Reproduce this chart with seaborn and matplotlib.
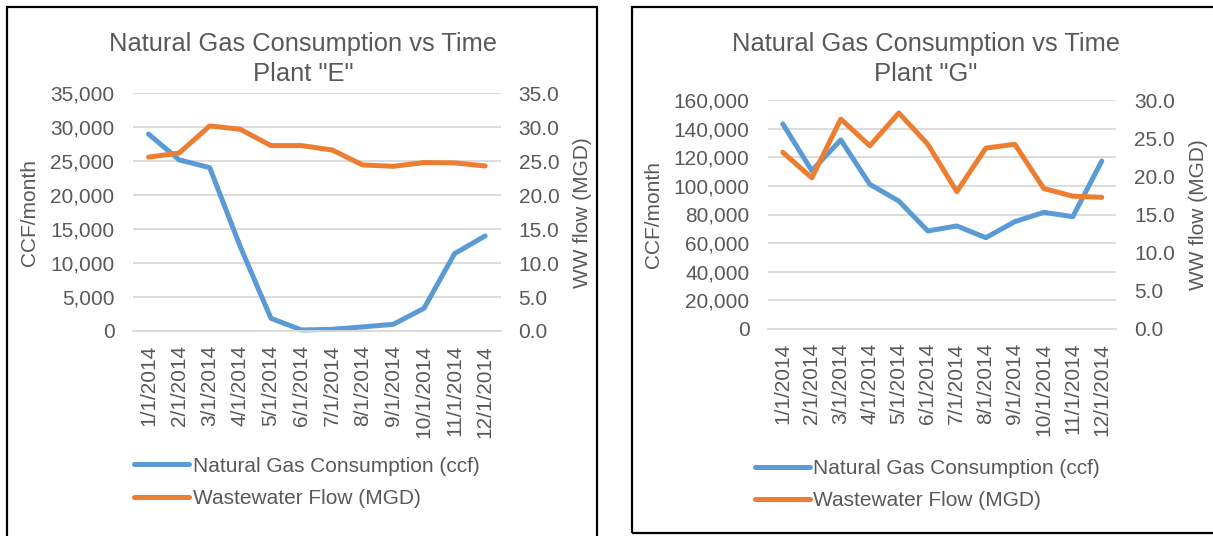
import matplotlib
matplotlib.use("Agg")
import matplotlib.pyplot as plt
from matplotlib.patches import Rectangle
from matplotlib.ticker import FuncFormatter, MultipleLocator
import numpy as np
import pandas as pd
import seaborn as sns

# ---- data -------------------------------------------------------------
months = ["1/1/2014", "2/1/2014", "3/1/2014", "4/1/2014", "5/1/2014", "6/1/2014",
          "7/1/2014", "8/1/2014", "9/1/2014", "10/1/2014", "11/1/2014", "12/1/2014"]

gas_e = [29000, 25200, 24050, 12400, 1870, 150, 250, 600, 990, 3340, 11400, 14000]
flow_e = [25.6, 26.2, 30.2, 29.7, 27.3, 27.3, 26.65, 24.45, 24.25, 24.8, 24.75, 24.3]

gas_g = [143300, 110600, 132100, 101100, 89400, 68500, 72000, 63800, 75000, 81500, 78500, 117400]
flow_g = [23.15, 19.8, 27.5, 24.0, 28.3, 24.2, 18.0, 23.7, 24.2, 18.4, 17.4, 17.25]

gas_label = "Natural Gas Consumption (ccf)"
flow_label = "Wastewater Flow (MGD)"

# ---- style ------------------------------------------------------------
sns.set_theme(style="white")
plt.rcParams["font.family"] = ["Liberation Sans", "DejaVu Sans"]
TEXT = "#595959"
GRID = "#D9D9D9"
BLUE = "#5B9BD5"
ORANGE = "#ED7D31"
FS = 15

W, H = 1213, 536
fig = plt.figure(figsize=(W / 100, H / 100), dpi=100)


def panel(rect, gas, flow, title, gas_max, gas_step, flow_max, flow_step,
          title_pos, ylab_x, leg_xy):
    x0, y0, x1, y1 = rect  # pixel box of the plotting area
    ax = fig.add_axes([x0 / W, 1 - y1 / H, (x1 - x0) / W, (y1 - y0) / H])
    df = pd.DataFrame({"pos": np.arange(len(months)), "gas": gas, "flow": flow})

    line_kw = dict(linewidth=3.6, solid_capstyle="round", solid_joinstyle="round",
                   clip_on=False)
    sns.lineplot(data=df, x="pos", y="gas", ax=ax, color=BLUE, sort=False,
                 label=gas_label, legend=False, **line_kw)
    ax2 = ax.twinx()
    sns.lineplot(data=df, x="pos", y="flow", ax=ax2, color=ORANGE, sort=False,
                 label=flow_label, legend=False, **line_kw)

    ax.set_xlim(-0.5, len(months) - 0.5)
    ax.set_ylim(0, gas_max)
    ax2.set_ylim(0, flow_max)
    ax.yaxis.set_major_locator(MultipleLocator(gas_step))
    ax2.yaxis.set_major_locator(MultipleLocator(flow_step))
    ax.yaxis.set_major_formatter(FuncFormatter(lambda v, p: f"{v:,.0f}"))
    ax2.yaxis.set_major_formatter(FuncFormatter(lambda v, p: f"{v:.1f}"))
    ax.set_xticks(np.arange(len(months)))
    ax.set_xticklabels(months, rotation=90, fontsize=FS, color=TEXT)

    ax.tick_params(axis="y", length=0, pad=13.5, labelsize=FS, labelcolor=TEXT)
    ax.tick_params(axis="x", length=0, pad=10)
    ax2.tick_params(axis="y", length=0, pad=13, labelsize=FS, labelcolor=TEXT)

    ax.yaxis.grid(True, color=GRID, linewidth=1.3)
    ax.xaxis.grid(False)
    ax2.grid(False)
    for a in (ax, ax2):
        for s in a.spines.values():
            s.set_visible(False)
    ax.spines["bottom"].set_visible(True)
    ax.spines["bottom"].set_color(GRID)
    ax.spines["bottom"].set_linewidth(1.3)

    ax.set_xlabel("")
    ax.set_ylabel("CCF/month", fontsize=FS, color=TEXT, va="center")
    ax.yaxis.set_label_coords(ylab_x[0], 0.5)
    ax2.set_ylabel("WW flow (MGD)", fontsize=FS, color=TEXT, va="center")
    ax2.yaxis.set_label_coords(ylab_x[1], 0.5)

    ax.set_title(title, fontsize=18.4, color=TEXT, x=title_pos[0], y=title_pos[1],
                 va="center", linespacing=1.3)

    handles = ax.get_lines()[:1] + ax2.get_lines()[:1]
    fig.legend(handles, [gas_label, flow_label], loc="upper left",
               bbox_to_anchor=(leg_xy[0] / W, 1 - leg_xy[1] / H),
               bbox_transform=fig.transFigure, frameon=False, fontsize=FS,
               labelcolor=TEXT, handlelength=2.64, handletextpad=0.18,
               labelspacing=0.64, borderpad=0, borderaxespad=0)
    return ax


panel((133.2, 93.3, 500.5, 331.0), gas_e, flow_e,
      'Natural Gas Consumption vs Time\nPlant "E"',
      35000, 5000, 35, 5, (0.462, 1.1085), (-0.2815, 1.223), (134, 456.5))

panel((768.3, 100.0, 1116.3, 329.0), gas_g, flow_g,
      'Natural Gas Consumption vs Time\nPlant "G"',
      160000, 20000, 30, 5, (0.452, 1.142), (-0.3313, 1.2374), (754.6, 459))

# chart borders
fig.patches.append(Rectangle((7 / W, -0.05), (597 - 7) / W, 1 - 7 / H + 0.05,
                             transform=fig.transFigure, fill=False,
                             edgecolor="black", linewidth=1.6))
fig.patches.append(Rectangle((632 / W, 1 - 533 / H), 600 / W, (533 - 7) / H,
                             transform=fig.transFigure, fill=False,
                             edgecolor="black", linewidth=1.6))

fig.savefig("out.png", dpi=100)
